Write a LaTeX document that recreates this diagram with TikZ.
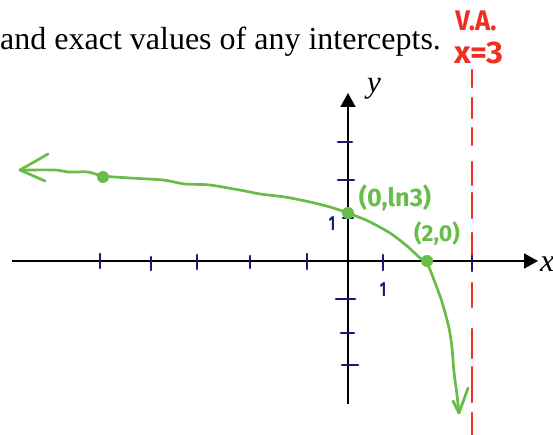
\documentclass[tikz,border=0pt]{standalone}
\usepackage{fontspec}
\usepackage{graphicx}
\setmainfont{Liberation Serif}
\newfontfamily\handfont{Fira Sans}
\usetikzlibrary{arrows.meta}
\definecolor{navyink}{RGB}{25,25,115}
\definecolor{greenink}{RGB}{104,188,72}
\definecolor{redink}{RGB}{238,48,36}
\tikzset{
  axisline/.style={line width=1.7pt, black, -{Triangle[length=14pt,width=15pt]}},
  tickmark/.style={line width=2.8pt, navyink, line cap=round},
  vadash/.style={line width=2.6pt, redink, line cap=round},
  graphline/.style={line width=2.7pt, greenink, line cap=round, line join=round},
  graphdot/.style={circle, fill=greenink, inner sep=0pt, minimum size=12pt},
  handtext/.style={inner sep=0pt, font=\handfont\bfseries},
}
\begin{document}
\begin{tikzpicture}[x=1pt,y=-1pt]
\useasboundingbox (0,0) rectangle (553,435);
% title text
\node[anchor=base west, inner sep=0pt, font=\fontsize{32}{32}\selectfont] (title) at (0,50) {and exact values of any intercepts.};
% vertical asymptote
\foreach \a/\b in {70/87,98/118,128/145,162/185,193/218,233/262,283/307,329/358,367/402,413/436}
  \draw[vadash] (472,\a) -- (472,\b);
\node[handtext, text=redink] (va) at (476,21) {\fontsize{27}{27}\selectfont\scalebox{0.95}[1.05]{V.A.}};
\node[handtext, text=redink] (xeq) at (479,53) {\fontsize{29}{29}\selectfont\scalebox{1.12}[1.08]{x=3}};
% axes
\coordinate (xl) at (12,261);
\coordinate (xr) at (538,261);
\coordinate (yb) at (348,404);
\coordinate (yt) at (348,93);
\draw[axisline] (xl) -- (xr);
\draw[axisline] (yb) -- (yt);
\node[anchor=base, inner sep=0pt, font=\fontsize{31}{31}\selectfont\itshape] (ylab) at (374,93) {y};
\node[anchor=base west, inner sep=0pt, font=\fontsize{32}{32}\selectfont\itshape] (xlab) at (540,271) {x};
% ticks on x-axis
\foreach \x/\t/\b in {100/254/268,151/257/270,197/255/269,250/256/268,307/254/269,383/255/270,472/256/271}
  \draw[tickmark] (\x,\t) -- (\x,\b);
% ticks on y-axis
\foreach \y/\l/\r in {142/338/352,180/338/354,218/343/353,299/336/355,333/341/354,365/342/358}
  \draw[tickmark] (\l,\y) -- (\r,\y);
\node[handtext, text=navyink] (onex) at (383,290) {\fontsize{17}{17}\selectfont\scalebox{0.8}[1.2]{1}};
\node[handtext, text=navyink] (oney) at (332,224) {\fontsize{17}{17}\selectfont\scalebox{0.8}[1.2]{1}};
% graph
\node[graphdot] (d1) at (103,177) {};
\node[graphdot] (d2) at (348,213) {};
\node[graphdot] (d3) at (427,261) {};
\draw[graphline] plot[smooth, tension=0.45] coordinates {(20,170) (55,170) (68,172) (88,172) (103,176) (130,178) (163,180) (185,184) (210,185) (245,191) (260,194) (285,197) (310,202) (330,207) (348,213) (368,221) (390,233) (407,246) (420,258) (427,263) (434,280) (442,302) (449,328) (452,348) (454,372) (457,395) (459,413)};
\coordinate (tipl) at (20,170);
\coordinate (tipb) at (459,413);
\draw[graphline] (48,154) -- (tipl) -- (45,181);
\draw[graphline] (453,401) -- (tipb) -- (468,388);
\node[handtext, text=greenink] (labA) at (395,198) {\fontsize{22}{22}\selectfont\scalebox{1.15}[1.15]{(0,ln3)}};
\node[handtext, text=greenink] (labB) at (437,234) {\fontsize{21}{21}\selectfont\scalebox{1.1}[1.1]{(2,0)}};
\end{tikzpicture}
\end{document}
